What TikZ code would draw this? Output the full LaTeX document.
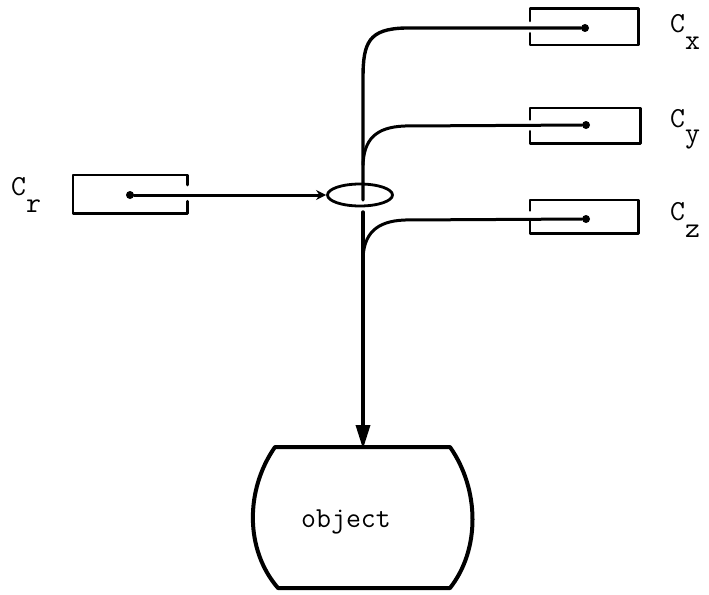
\documentclass[tikz,border=0pt]{standalone}
\usetikzlibrary{arrows.meta,shapes.geometric}

\begin{document}
\begin{tikzpicture}[x=1pt,y=-1pt,line cap=round,line join=round,
  wire/.style={line width=3pt},
  trunk/.style={line width=3.4pt},
  boxline/.style={line width=2.6pt},
  slot/.style={minimum width=108pt,minimum height=36pt,inner sep=0,draw=none},
  pin/.style={circle,fill,inner sep=0,minimum size=8pt},
  lbl/.style={font=\ttfamily\fontsize{29}{29}\selectfont,inner sep=0,anchor=base west}]
\useasboundingbox (0,0) rectangle (709,594);

% control boxes (open on the side the wire passes through)
\node[slot] (bx) at (584,27) {};
\node[slot,minimum width=110pt,minimum height=35pt] (by) at (585,125.5) {};
\node[slot,minimum height=33pt] (bz) at (584,216.5) {};
\node[slot,minimum width=114pt,minimum height=38pt] (br) at (130,194) {};

\draw[boxline] (bx.west) ++(0,-6) |- (bx.north east) |- (bx.south west) -- ++(0,-12);
\draw[boxline] (by.west) ++(0,-6) |- (by.north east) |- (by.south west) -- ++(0,-12);
\draw[boxline] (bz.west) ++(0,-6) |- (bz.north east) |- (bz.south west) -- ++(0,-12);
\draw[boxline] (br.east) ++(0,-9) |- (br.north west) |- (br.south east) -- ++(0,-12);

% terminals inside the boxes
\node[pin] (px) at (585,28) {};
\node[pin] (py) at (586,125) {};
\node[pin] (pz) at (586,219) {};
\node[pin] (pr) at (130,195) {};

% labels
\node[lbl] (lx) at (670,33) {C\raisebox{-17pt}{x}};
\node[lbl] (ly) at (670,127) {C\raisebox{-15pt}{y}};
\node[lbl] (lz) at (670,220) {C\raisebox{-17pt}{z}};
\node[lbl] (lr) at (11,195) {C\raisebox{-17pt}{r}};

% ring around the bundle
\node[ellipse,draw,line width=2.8pt,minimum width=65pt,minimum height=22pt,inner sep=0] (ring) at (360,195) {};

% wires into the bundle
\coordinate (tx) at (363,200);
\draw[trunk] (px) -- (405,28) .. controls (369,29) and (363,42) .. (363,78) -- (tx);
\draw[wire] (py) -- (405,126) .. controls (375,127) and (364,140) .. (363,165);
\draw[wire] (pz) -- (405,220) .. controls (375,221) and (364,235) .. (363,258);
\draw[wire,-{Stealth[length=10pt,width=10pt]}] (pr) -- (ring.west);

% object
\coordinate (bt) at (363,212);
\coordinate (objtop) at (363,449);
\draw[trunk,-{Triangle[length=24pt,width=14pt]}] (bt) -- (objtop);
\draw[line width=4pt] (275,447) -- (450,447) .. controls (480,490) and (480,550) .. (450,588)
  -- (278,588) .. controls (245,550) and (245,490) .. (275,447) -- cycle;
\node[lbl] (obj) at (301,527) {object};
\end{tikzpicture}
\end{document}
